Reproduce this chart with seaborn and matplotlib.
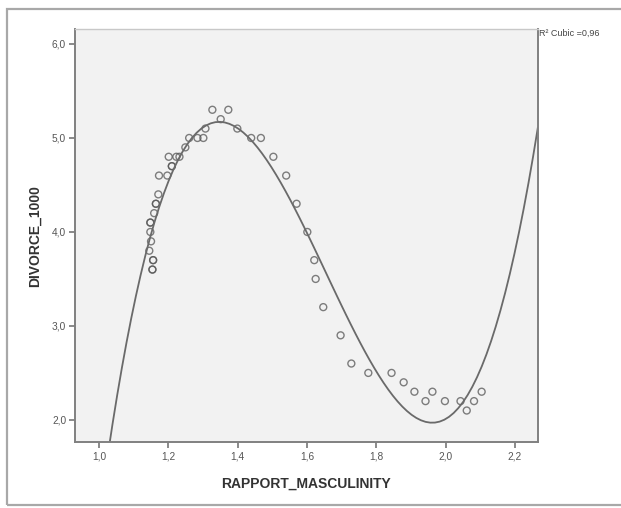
import seaborn as sns
import matplotlib.pyplot as plt
import pandas as pd
from matplotlib.patches import Rectangle

# values (duplicates = overlapping circles)
masculinity = [1.327, 1.373, 1.351, 1.399, 1.307, 1.439, 1.467, 1.260, 1.284, 1.301,
               1.249, 1.503, 1.201, 1.223, 1.232, 1.210, 1.210, 1.540, 1.173, 1.197,
               1.171, 1.164, 1.164, 1.159, 1.148, 1.148, 1.148, 1.150, 1.145, 1.156,
               1.156, 1.154, 1.154,
               1.570, 1.601, 1.621, 1.625, 1.647, 1.697, 1.728, 1.777, 1.844, 1.879,
               1.910, 1.962, 1.942, 1.998, 2.043, 2.082, 2.061, 2.104]
divorce = [5.3, 5.3, 5.2, 5.1, 5.1, 5.0, 5.0, 5.0, 5.0, 5.0,
           4.9, 4.8, 4.8, 4.8, 4.8, 4.7, 4.7, 4.6, 4.6, 4.6,
           4.4, 4.3, 4.3, 4.2, 4.1, 4.1, 4.0, 3.9, 3.8, 3.7,
           3.7, 3.6, 3.6,
           4.3, 4.0, 3.7, 3.5, 3.2, 2.9, 2.6, 2.5, 2.5, 2.4,
           2.3, 2.3, 2.2, 2.2, 2.2, 2.2, 2.1, 2.3]

x_ticks = [1.0, 1.2, 1.4, 1.6, 1.8, 2.0, 2.2]
x_tick_labels = ["1,0", "1,2", "1,4", "1,6", "1,8", "2,0", "2,2"]
y_ticks = [2.0, 3.0, 4.0, 5.0, 6.0]
y_tick_labels = ["2,0", "3,0", "4,0", "5,0", "6,0"]
r2_label = "R² Cubic =0,96"

df = pd.DataFrame({"RAPPORT_MASCULINITY": masculinity, "DIVORCE_1000": divorce})

plt.rcParams["font.family"] = ["Liberation Sans", "DejaVu Sans"]

fig = plt.figure(figsize=(6.21, 5.08), dpi=100)
fig.patch.set_facecolor("white")

# screenshot frame
fig.patches.append(Rectangle((0.0113, 0.006), 1.1, 0.976, transform=fig.transFigure,
                             fill=False, edgecolor="#a8a8a8", linewidth=1.6))

ax = fig.add_axes([0.121, 0.129, 0.745, 0.814])
ax.set_facecolor("#f2f2f2")
ax.set_xlim(0.931, 2.266)
ax.set_ylim(1.76, 6.16)

sns.regplot(data=df, x="RAPPORT_MASCULINITY", y="DIVORCE_1000", order=3, ci=None,
            truncate=False, ax=ax,
            scatter_kws={"s": 25, "facecolors": "none", "edgecolors": "#555555",
                         "linewidths": 1.0, "alpha": 0.75},
            line_kws={"color": "#6a6a6a", "linewidth": 1.3})

ax.set_xlim(0.931, 2.266)
ax.set_ylim(1.76, 6.16)
ax.set_xticks(x_ticks)
ax.set_xticklabels(x_tick_labels)
ax.set_yticks(y_ticks)
ax.set_yticklabels(y_tick_labels)
ax.tick_params(axis="both", direction="out", length=4, width=1.2, color="#777777",
               labelsize=7.3, labelcolor="#555555", pad=2.5)

for side in ["left", "bottom", "right"]:
    ax.spines[side].set_color("#808080")
    ax.spines[side].set_linewidth(1.4)
ax.spines["top"].set_color("#c8c8c8")
ax.spines["top"].set_linewidth(1.0)

ax.set_xlabel("RAPPORT_MASCULINITY", fontsize=10, fontweight="bold", color="#333333", labelpad=11)
ax.set_ylabel("DIVORCE_1000", fontsize=10, fontweight="bold", color="#333333", labelpad=7)

ax.text(1.002, 0.99, r2_label, transform=ax.transAxes, fontsize=6.5, color="#444444",
        ha="left", va="center")

fig.savefig("out.png", dpi=100)
